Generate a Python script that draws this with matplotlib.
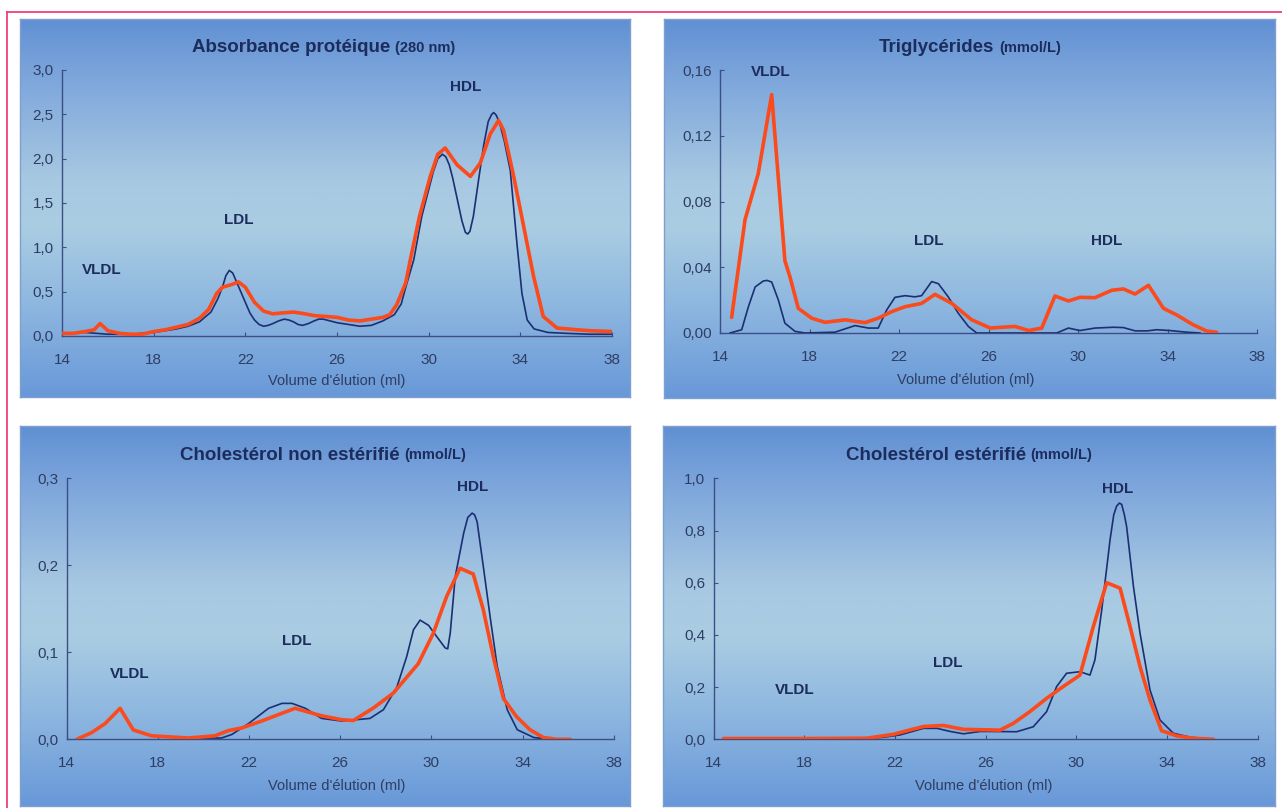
import numpy as np
import matplotlib
matplotlib.use('Agg')
import matplotlib.pyplot as plt
from matplotlib.colors import LinearSegmentedColormap
from matplotlib import font_manager

# ---------------- DATA ----------------
xticks = [14, 18, 22, 26, 30, 34, 38]
xtick_labels = ['14', '18', '22', '26', '30', '34', '38']

# Panel 1: Absorbance protéique (280 nm)
abs_ticks = [0.0, 0.5, 1.0, 1.5, 2.0, 2.5, 3.0]
abs_tick_labels = ['0,0', '0,5', '1,0', '1,5', '2,0', '2,5', '3,0']
abs_blue_x = [14.0, 15.0, 15.5, 16.0, 17.0, 18.0, 19.0, 19.5, 20.0, 20.5, 20.8, 21.0, 21.15, 21.3,
              21.45, 21.6, 21.8, 22.0, 22.2, 22.4, 22.6, 22.8, 23.0, 23.2, 23.45, 23.7, 23.9,
              24.1, 24.3, 24.5, 24.75, 25.0, 25.2, 25.4, 25.7, 26.0, 26.5, 27.0, 27.5, 28.0, 28.5,
              28.8, 29.0, 29.35, 29.7, 30.0, 30.2, 30.4, 30.6, 30.75, 30.9, 31.05, 31.2, 31.45,
              31.6, 31.7, 31.8, 31.95, 32.2, 32.4, 32.6, 32.75, 32.84, 32.95, 33.1, 33.3, 33.56,
              33.85, 34.07, 34.3, 34.6, 35.2, 36.0, 37.0, 38.0]
abs_blue_y = [0.03, 0.04, 0.03, 0.02, 0.02, 0.04, 0.08, 0.11, 0.16, 0.27, 0.42, 0.55, 0.68, 0.74,
              0.71, 0.62, 0.50, 0.38, 0.26, 0.18, 0.13, 0.11, 0.12, 0.14, 0.17, 0.19, 0.18,
              0.16, 0.13, 0.12, 0.14, 0.17, 0.19, 0.19, 0.17, 0.15, 0.13, 0.11, 0.12, 0.17, 0.24,
              0.36, 0.55, 0.86, 1.35, 1.65, 1.85, 2.00, 2.05, 2.02, 1.93, 1.78, 1.60, 1.30,
              1.17, 1.15, 1.18, 1.35, 1.80, 2.15, 2.42, 2.50, 2.52, 2.49, 2.40, 2.20, 1.87,
              1.05, 0.48, 0.18, 0.08, 0.04, 0.03, 0.02, 0.02]
abs_red_x = [14.0, 14.5, 15.0, 15.4, 15.66, 16.0, 16.5, 17.0, 17.5, 18.0, 18.5, 19.0, 19.5, 20.0,
             20.4, 20.75, 21.0, 21.4, 21.7, 22.0, 22.4, 22.8, 23.2, 23.6, 24.1, 24.6, 25.0, 25.5,
             26.0, 26.5, 27.0, 27.5, 28.0, 28.3, 28.6, 29.0, 29.2, 29.6, 30.07, 30.4, 30.72, 31.24,
             31.82, 32.25, 32.69, 33.05, 33.27, 33.71, 34.15, 34.58, 35.0, 35.6, 36.5, 37.0, 38.0]
abs_red_y = [0.03, 0.03, 0.05, 0.07, 0.14, 0.06, 0.03, 0.02, 0.02, 0.05, 0.07, 0.10, 0.13, 0.20,
             0.30, 0.48, 0.55, 0.58, 0.61, 0.55, 0.38, 0.28, 0.25, 0.26, 0.27, 0.25, 0.23, 0.22,
             0.21, 0.18, 0.17, 0.19, 0.21, 0.24, 0.35, 0.60, 0.86, 1.35, 1.80, 2.05, 2.12, 1.93,
             1.80, 1.95, 2.28, 2.43, 2.32, 1.80, 1.23, 0.67, 0.22, 0.09, 0.07, 0.06, 0.05]

# Panel 2: Triglycérides (mmol/L)
tg_ticks = [0.0, 0.04, 0.08, 0.12, 0.16]
tg_tick_labels = ['0,00', '0,04', '0,08', '0,12', '0,16']
tg_blue_x = [14.45, 14.97, 15.27, 15.57, 15.93, 16.1, 16.31, 16.61, 16.9, 17.35, 17.8, 19.14, 20.03,
             20.63, 21.07, 21.45, 21.82, 22.27, 22.71, 23.01, 23.46, 23.76, 24.2, 24.65, 25.1,
             25.47, 29.05, 29.57, 30.09, 30.76, 31.58, 32.03, 32.55, 33.1, 33.52, 34.1, 34.85, 35.45]
tg_blue_y = [0.0, 0.002, 0.016, 0.028, 0.0316, 0.032, 0.031, 0.020, 0.006, 0.001, 0.0, 0.0005, 0.0045,
             0.003, 0.003, 0.014, 0.0217, 0.0227, 0.022, 0.0227, 0.0313, 0.030, 0.022, 0.012, 0.004,
             0.0, 0.0, 0.003, 0.0015, 0.003, 0.0035, 0.0033, 0.0013, 0.0013, 0.002, 0.0015, 0.0005, 0.0]
tg_red_x = [14.52, 15.12, 15.71, 16.31, 16.9, 17.13, 17.5, 18.1, 18.69, 19.59, 20.48, 21.07, 21.67,
            22.27, 23.01, 23.61, 24.36, 25.25, 26.08, 27.18, 27.8, 28.38, 28.97, 29.57, 30.09,
            30.76, 31.51, 32.03, 32.55, 33.15, 33.82, 34.41, 35.15, 35.75, 36.2]
tg_red_y = [0.0095, 0.069, 0.097, 0.145, 0.044, 0.034, 0.015, 0.009, 0.0065, 0.008, 0.0063, 0.009,
            0.013, 0.016, 0.018, 0.0235, 0.018, 0.008, 0.003, 0.004, 0.0015, 0.003, 0.0225, 0.0195,
            0.0217, 0.0215, 0.026, 0.0268, 0.0237, 0.029, 0.015, 0.011, 0.005, 0.0012, 0.0004]

# Panel 3: Cholestérol non estérifié (mmol/L)
cl_ticks = [0.0, 0.1, 0.2, 0.3]
cl_tick_labels = ['0,0', '0,1', '0,2', '0,3']
cl_blue_x = [14.45, 15.1, 15.69, 16.35, 16.93, 17.73, 19.34, 20.8, 21.25, 21.98, 22.86, 23.45,
             23.89, 24.48, 25.19, 26.07, 27.31, 27.9, 28.49, 28.92, 29.22, 29.51, 29.88, 30.24,
             30.61, 30.72, 30.83, 31.05, 31.42, 31.6, 31.79, 31.9, 32.01, 32.3, 32.6, 32.89, 33.33,
             33.77, 34.5, 35.37, 36.1]
cl_blue_y = [0.0, 0.0076, 0.018, 0.0356, 0.0107, 0.004, 0.0015, 0.0015, 0.0055, 0.018, 0.0356,
             0.0413, 0.0413, 0.0356, 0.024, 0.021, 0.024, 0.034, 0.060, 0.095, 0.126, 0.137, 0.131,
             0.118, 0.105, 0.104, 0.122, 0.187, 0.237, 0.255, 0.260, 0.258, 0.250, 0.195, 0.137,
             0.084, 0.034, 0.011, 0.002, 0.0, 0.0]
cl_red_x = [14.45, 15.1, 15.69, 16.35, 16.93, 17.73, 19.34, 20.51, 21.1, 21.68, 22.56, 24.02,
            25.19, 26.07, 26.58, 27.46, 28.33, 29.43, 30.09, 30.67, 31.26, 31.84, 32.28, 32.72,
            33.16, 33.74, 34.33, 34.92, 35.5, 36.09]
cl_red_y = [0.0, 0.0076, 0.018, 0.0356, 0.0107, 0.004, 0.0015, 0.004, 0.010, 0.013, 0.021,
            0.0356, 0.027, 0.0225, 0.0216, 0.036, 0.053, 0.087, 0.122, 0.164, 0.1966, 0.190,
            0.149, 0.095, 0.047, 0.026, 0.011, 0.002, 0.0, 0.0]

# Panel 4: Cholestérol estérifié (mmol/L)
ce_ticks = [0.0, 0.2, 0.4, 0.6, 0.8, 1.0]
ce_tick_labels = ['0,0', '0,2', '0,4', '0,6', '0,8', '1,0']
ce_blue_x = [14.43, 18.0, 20.75, 21.5, 22.22, 23.26, 23.85, 24.44, 25.02, 25.76, 26.2, 27.37,
             28.1, 28.69, 29.13, 29.57, 30.16, 30.6, 30.82, 31.12, 31.49, 31.65, 31.78, 31.9, 32.0,
             32.12, 32.22, 32.52, 32.81, 33.25, 33.69, 34.28, 35.02, 36.05]
ce_blue_y = [0.0, 0.0, 0.003, 0.008, 0.0166, 0.042, 0.042, 0.030, 0.021, 0.030, 0.030, 0.029,
             0.048, 0.106, 0.202, 0.253, 0.259, 0.246, 0.304, 0.496, 0.766, 0.860, 0.894, 0.905,
             0.900, 0.860, 0.814, 0.585, 0.406, 0.189, 0.074, 0.023, 0.008, 0.0]
ce_red_x = [14.43, 18.0, 20.75, 21.93, 22.67, 23.26, 24.14, 25.02, 26.2, 26.63, 27.22, 27.95,
            28.69, 29.42, 30.16, 30.75, 31.34, 31.93, 32.37, 32.81, 33.25, 33.76, 34.43, 35.16,
            36.05]
ce_red_y = [0.003, 0.003, 0.004, 0.019, 0.036, 0.049, 0.053, 0.038, 0.036, 0.035, 0.061, 0.106,
            0.157, 0.202, 0.246, 0.432, 0.600, 0.579, 0.432, 0.278, 0.150, 0.033, 0.013, 0.004,
            0.0]

fraction_labels = ['VLDL', 'LDL', 'HDL']

# ---------------- STYLE / LAYOUT ----------------
W, H = 1282, 808
fig = plt.figure(figsize=(W / 100, H / 100), dpi=100)
fig.patch.set_facecolor('white')

avail = {f.name for f in font_manager.fontManager.ttflist}
narrow = 'Liberation Sans Narrow' if 'Liberation Sans Narrow' in avail else 'Liberation Sans'
FAM = [narrow, 'DejaVu Sans']
FAM_REG = ['Liberation Sans', 'DejaVu Sans']

NAVY = '#1c2c5c'
TICKC = '#2e3d63'
AXC = '#3b4f85'
BLUE = '#1b2f73'
RED = '#fb4a1c'


def frac(x0, y0, x1, y1):
    return [x0 / W, 1 - y1 / H, (x1 - x0) / W, (y1 - y0) / H]


# page border (pink)
border = fig.add_axes([0, 0, 1, 1], zorder=-10)
border.set_xlim(0, W)
border.set_ylim(H, 0)
border.axis('off')
border.plot([7, W], [12, 12], color='#f0407a', lw=1.3)
border.plot([7, 7], [12, H], color='#f0407a', lw=1.3)

cmap = LinearSegmentedColormap.from_list('bg', [
    (0.0, '#6090d3'), (0.15, '#7ca5db'), (0.42, '#a7c8e2'), (0.55, '#aacde2'),
    (0.75, '#8fb8e0'), (1.0, '#6898d8')])
grad = np.linspace(0, 1, 256).reshape(-1, 1)

panels = [
    dict(box=(20, 19, 630, 397), ax=(62, 70, 612, 336), ylim=(0, 3.0),
         yt=abs_ticks, ytl=abs_tick_labels, bx=abs_blue_x, by=abs_blue_y,
         rx=abs_red_x, ry=abs_red_y, title=('Absorbance protéique', '(280 nm)'),
         tpos=(324, 48), xl=(337, 381),
         labs=[(15.75, 0.74), (21.7, 1.31), (31.6, 2.81)]),
    dict(box=(664, 19, 1275, 398), ax=(720, 70, 1257, 333), ylim=(0, 0.16),
         yt=tg_ticks, ytl=tg_tick_labels, bx=tg_blue_x, by=tg_blue_y,
         rx=tg_red_x, ry=tg_red_y, title=('Triglycérides', '(mmol/L)'),
         tpos=(970, 48), xl=(966, 380),
         labs=[(16.28, 0.159), (23.34, 0.056), (31.3, 0.056)]),
    dict(box=(20, 426, 630, 806), ax=(66.5, 478.3, 613.7, 739.3), ylim=(0, 0.3),
         yt=cl_ticks, ytl=cl_tick_labels, bx=cl_blue_x, by=cl_blue_y,
         rx=cl_red_x, ry=cl_red_y, title=('Cholestérol non estérifié', '(mmol/L)'),
         tpos=(323, 456), xl=(337, 786),
         labs=[(16.79, 0.075), (24.1, 0.113), (31.8, 0.29)]),
    dict(box=(663, 426, 1275, 806), ax=(713.6, 478.3, 1257.7, 739.3), ylim=(0, 1.0),
         yt=ce_ticks, ytl=ce_tick_labels, bx=ce_blue_x, by=ce_blue_y,
         rx=ce_red_x, ry=ce_red_y, title=('Cholestérol estérifié', '(mmol/L)'),
         tpos=(969, 456), xl=(984, 786),
         labs=[(17.59, 0.189), (24.34, 0.293), (31.8, 0.96)]),
]

renderer = fig.canvas.get_renderer()

for p in panels:
    bg = fig.add_axes(frac(*p['box']), zorder=0)
    bg.imshow(grad, aspect='auto', cmap=cmap, extent=[0, 1, 0, 1], origin='upper')
    bg.set_xticks([])
    bg.set_yticks([])
    for s in bg.spines.values():
        s.set_color('#7f9fcf')
        s.set_linewidth(1.0)

    ax = fig.add_axes(frac(*p['ax']), zorder=1)
    ax.patch.set_alpha(0)
    ax.set_xlim(14, 38)
    ax.set_ylim(*p['ylim'])
    for s in ['top', 'right']:
        ax.spines[s].set_visible(False)
    for s in ['left', 'bottom']:
        ax.spines[s].set_color(AXC)
        ax.spines[s].set_linewidth(1.0)
    ax.set_xticks(xticks)
    ax.set_xticklabels(xtick_labels)
    ax.set_yticks(p['yt'])
    ax.set_yticklabels(p['ytl'])
    ax.tick_params(axis='both', direction='in', length=3, color=AXC, labelcolor=TICKC,
                   labelsize=11)
    ax.tick_params(axis='x', pad=12)
    ax.tick_params(axis='y', pad=6)
    for lab in ax.get_xticklabels() + ax.get_yticklabels():
        lab.set_family(FAM)

    ax.plot(p['bx'], p['by'], color=BLUE, lw=1.2, zorder=3, solid_joinstyle='round')
    ax.plot(p['rx'], p['ry'], color=RED, lw=2.6, zorder=4, solid_joinstyle='round',
            solid_capstyle='round')

    for name, (lx, ly) in zip(fraction_labels, p['labs']):
        ax.text(lx, ly, name, ha='center', va='center', fontsize=11, fontweight='bold',
                color=NAVY, family=FAM_REG)

    # x label
    fig.text(p['xl'][0] / W, 1 - p['xl'][1] / H, "Volume d'élution (ml)", ha='center',
             va='center', fontsize=10.5, color=TICKC, family=FAM)

    # title: bold main + smaller unit
    t1 = fig.text(0, 0, p['title'][0], fontsize=13.5, fontweight='bold', color=NAVY,
                  family=FAM_REG, va='center', ha='left')
    t2 = fig.text(0, 0, p['title'][1], fontsize=10.5, fontweight='bold', color=NAVY,
                  family=FAM_REG, va='center', ha='left')
    w1 = t1.get_window_extent(renderer).width
    w2 = t2.get_window_extent(renderer).width
    gap = 5
    total = w1 + gap + w2
    x0 = p['tpos'][0] - total / 2
    yy = 1 - p['tpos'][1] / H
    t1.set_position((x0 / W, yy))
    t2.set_position(((x0 + w1 + gap) / W, yy + 0.5 / H))

fig.savefig('out.png', dpi=100, facecolor='white')
